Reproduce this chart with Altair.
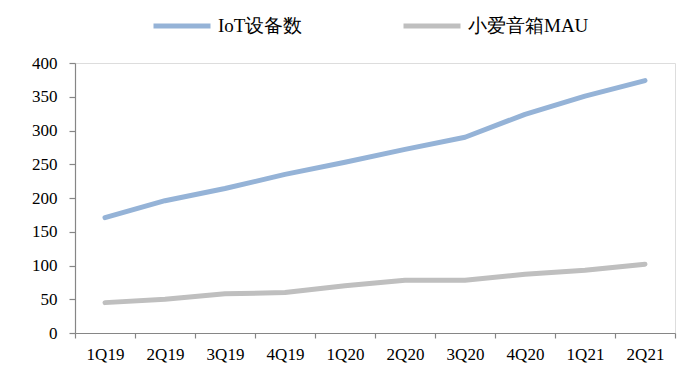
import altair as alt
import pandas as pd

quarters = ["1Q19", "2Q19", "3Q19", "4Q19", "1Q20", "2Q20", "3Q20", "4Q20", "1Q21", "2Q21"]
iot_devices = [171, 196, 214, 235, 253, 272, 290, 324, 351, 374]
speaker_mau = [45, 50, 58, 60, 70, 78, 78, 87, 93, 102]
series_names = ["IoT设备数", "小爱音箱MAU"]
series_colors = ["#95B3D7", "#BFBFBF"]
y_ticks = [0, 50, 100, 150, 200, 250, 300, 350, 400]

rows = []
for q, a, b in zip(quarters, iot_devices, speaker_mau):
    rows.append({"quarter": q, "series": series_names[0], "value": a})
    rows.append({"quarter": q, "series": series_names[1], "value": b})
df = pd.DataFrame(rows)

FONT = "Liberation Serif"
AXIS_COLOR = "#868686"

chart = alt.Chart(df).mark_line(
    strokeWidth=5, strokeCap="round", strokeJoin="round"
).encode(
    x=alt.X(
        "quarter:N",
        sort=quarters,
        bandPosition=0.5,
        scale=alt.Scale(type="band", paddingInner=0, paddingOuter=0),
        axis=alt.Axis(
            title=None, labelAngle=0, tickBand="extent", grid=False,
            domainColor=AXIS_COLOR, tickColor=AXIS_COLOR, tickSize=5,
            labelFont=FONT, labelFontSize=17, labelColor="#000000",
            labelPadding=8, domainWidth=1.2, tickWidth=1.2,
        ),
    ),
    y=alt.Y(
        "value:Q",
        scale=alt.Scale(domain=[0, 400], nice=False),
        axis=alt.Axis(
            title=None, values=y_ticks, grid=False,
            domainColor=AXIS_COLOR, tickColor=AXIS_COLOR, tickSize=6,
            labelFont=FONT, labelFontSize=17, labelColor="#000000",
            labelPadding=12, domainWidth=1.2, tickWidth=1.2,
        ),
    ),
    color=alt.Color(
        "series:N",
        scale=alt.Scale(domain=series_names, range=series_colors),
        legend=alt.Legend(
            title=None, orient="none", direction="horizontal",
            legendX=76, legendY=-68,
            symbolType="stroke", symbolSize=3249, symbolStrokeWidth=5,
            labelFont=FONT, labelFontSize=19, labelColor="#000000",
            columnPadding=90, labelOffset=5,
        ),
    ),
).properties(
    width=600,
    height=270,
    autosize=alt.AutoSizeParams(type="none"),
    padding={"left": 75, "top": 63, "right": 11, "bottom": 34},
).configure_view(stroke=None).configure(background="white")

chart.save("out.html", embed_options={"renderer": "svg", "actions": False})
